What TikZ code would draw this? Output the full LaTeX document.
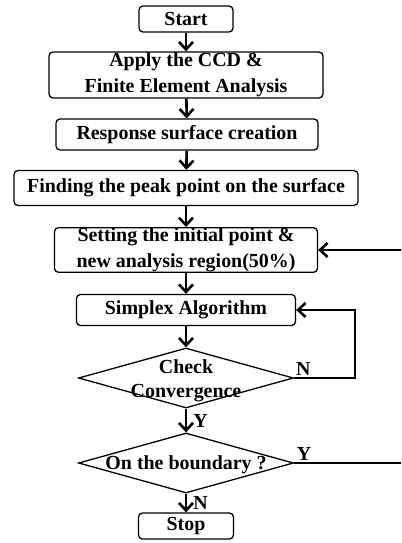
\documentclass[tikz,border=0pt]{standalone}
\usepackage{fontspec}
\setmainfont{Liberation Serif}
\usetikzlibrary{shapes.geometric,arrows.meta}

\begin{document}
\begin{tikzpicture}[x=1bp,y=-1bp,
    font=\bfseries\fontsize{20}{26.5}\selectfont,
    box/.style={draw,rounded corners=4bp,line width=1.3bp,inner sep=0pt,align=center},
    decision/.style={draw,diamond,line width=1.3bp,inner sep=0pt,minimum width=215bp,minimum height=60bp},
    flow/.style={line width=2.6bp,-{Straight Barb[length=7.5bp,width=14bp]}},
    yn/.style={inner sep=1bp}]
        \useasboundingbox (0,0) rectangle (401,543);
        \clip (0,0) rectangle (401,543);
        % process steps
        \node[box,minimum width=94bp,minimum height=26bp] (start) at (186,19) {Start};
        \node[box,minimum width=274bp,minimum height=46bp] (apply) at (186,75) {Apply the CCD \&\\Finite Element Analysis};
        \node[box,minimum width=262bp,minimum height=31bp] (resp) at (187,134.5) {Response surface creation};
        \node[box,minimum width=344bp,minimum height=35bp] (peak) at (186,188) {Finding the peak point on the surface};
        \node[box,minimum width=263bp,minimum height=44bp] (init) at (186,250) {Setting the initial point \&\\new analysis region(50\%)};
        \node[box,minimum width=219bp,minimum height=31bp] (simplex) at (186,310) {Simplex Algorithm};
        \node[decision] (conv) at (186,378) {};
        \node[align=center,font=\bfseries\fontsize{20}{24}\selectfont] at (186,381) {Check\\Convergence};
        \node[decision] (bound) at (186,463) {};
        \node at (186,465) {On the boundary ?};
        \node[box,minimum width=95bp,minimum height=26bp] (stop) at (186,526) {Stop};
        % arrows
        \draw[flow] (start) -- (apply);
        \draw[flow] (apply) -- (resp);
        \draw[flow] (resp) -- (peak);
        \draw[flow] (peak) -- (init);
        \draw[flow] (init) -- (simplex);
        \draw[flow] (simplex) -- (conv);
        \draw[flow] (conv) -- node[yn,right,xshift=5bp]{Y} (bound);
        \draw[flow] (bound) -- node[yn,right,xshift=5bp]{N} (stop);
        \draw[flow] (conv.east) -- node[yn,above,pos=0.15]{N} ++(61,0) |- (simplex.east);
        \draw[flow] (bound.east) -- node[yn,above,pos=0.07]{Y} ++(140,0) |- (init.east);
    \end{tikzpicture}
\end{document}
